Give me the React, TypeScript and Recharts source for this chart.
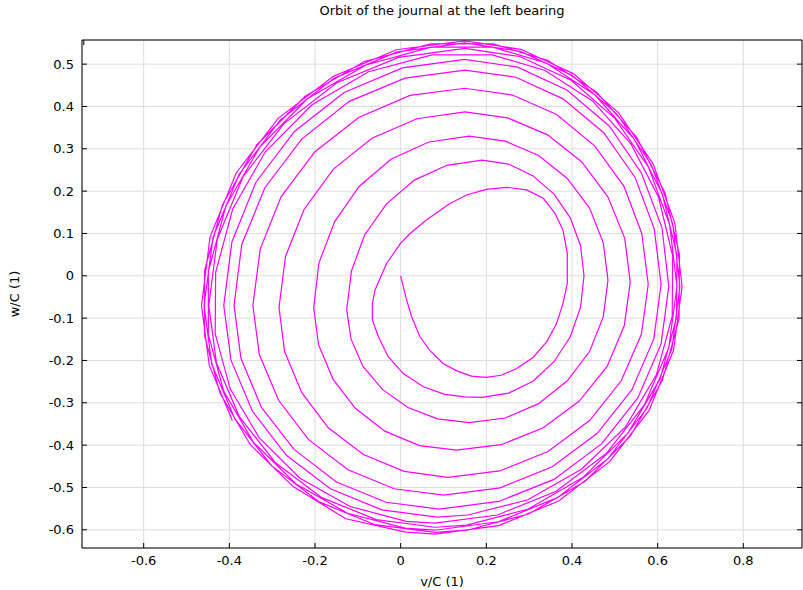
import React from 'react';
import { LineChart, Line, XAxis, YAxis, CartesianGrid } from 'recharts';

// journal orbit (v/C, w/C)
const turn0 = [
  [0, 0], [0.012, -0.05], [0.025, -0.095], [0.045, -0.144], [0.068, -0.176], [0.099, -0.207],
  [0.13, -0.224], [0.165, -0.237], [0.2, -0.24], [0.235, -0.235], [0.271, -0.219], [0.309, -0.193],
  [0.341, -0.156], [0.364, -0.113], [0.379, -0.065], [0.389, -0.018], [0.389, 0.053], [0.379, 0.108],
  [0.36, 0.148], [0.333, 0.183], [0.294, 0.203], [0.247, 0.209], [0.2, 0.204], [0.154, 0.191],
  [0.115, 0.171], [0.06, 0.132], [0.022, 0.1], [0, 0.077], [-0.033, 0.029], [-0.06, -0.034],
  [-0.066, -0.065], [-0.066, -0.105], [-0.052, -0.144], [-0.029, -0.191], [0.006, -0.231],
  [0.053, -0.262], [0.103, -0.28], [0.15, -0.286],
];
const turn1 = [
  [0.19, -0.287], [0.252, -0.277], [0.309, -0.249], [0.358, -0.203], [0.396, -0.144], [0.42, -0.074],
  [0.428, 0], [0.42, 0.071], [0.396, 0.137], [0.358, 0.193], [0.309, 0.236], [0.252, 0.264],
  [0.19, 0.273], [0.108, 0.261], [0.032, 0.226], [-0.033, 0.17], [-0.084, 0.097], [-0.115, 0.011],
  [-0.126, -0.08], [-0.116, -0.149], [-0.088, -0.214], [-0.042, -0.269], [0.017, -0.311], [0.086, -0.338],
];
const turn2 = [
  [0.16, -0.347], [0.244, -0.336], [0.322, -0.302], [0.389, -0.248], [0.441, -0.179], [0.473, -0.097],
  [0.484, -0.01], [0.473, 0.078], [0.441, 0.16], [0.389, 0.23], [0.322, 0.284], [0.244, 0.318],
  [0.16, 0.33], [0.066, 0.316], [-0.022, 0.276], [-0.097, 0.211], [-0.154, 0.128], [-0.191, 0.03],
  [-0.203, -0.075], [-0.192, -0.162], [-0.158, -0.244], [-0.106, -0.313], [-0.037, -0.367], [0.044, -0.401],
];
const turn3 = [
  [0.13, -0.412], [0.235, -0.399], [0.333, -0.359], [0.417, -0.296], [0.482, -0.214], [0.522, -0.118],
  [0.536, -0.015], [0.523, 0.089], [0.484, 0.186], [0.423, 0.269], [0.343, 0.333], [0.25, 0.373],
  [0.15, 0.387], [0.038, 0.371], [-0.067, 0.325], [-0.157, 0.252], [-0.226, 0.156], [-0.269, 0.045],
  [-0.284, -0.075], [-0.271, -0.179], [-0.231, -0.276], [-0.169, -0.359], [-0.087, -0.422], [0.008, -0.462],
];
const turn4 = [
  [0.11, -0.476], [0.231, -0.461], [0.344, -0.415], [0.441, -0.342], [0.515, -0.248], [0.562, -0.138],
  [0.578, -0.02], [0.563, 0.1], [0.521, 0.212], [0.453, 0.307], [0.364, 0.381], [0.261, 0.427],
  [0.15, 0.443], [0.022, 0.426], [-0.098, 0.374], [-0.2, 0.293], [-0.279, 0.187], [-0.328, 0.063],
  [-0.345, -0.07], [-0.33, -0.186], [-0.285, -0.294], [-0.215, -0.387], [-0.123, -0.458], [-0.015, -0.503],
];
const turn5 = [
  [0.1, -0.518], [0.232, -0.501], [0.354, -0.451], [0.459, -0.372], [0.54, -0.269], [0.591, -0.149],
  [0.608, -0.02], [0.592, 0.111], [0.547, 0.233], [0.474, 0.338], [0.379, 0.418], [0.269, 0.469],
  [0.15, 0.486], [0.01, 0.467], [-0.12, 0.412], [-0.231, 0.323], [-0.317, 0.208], [-0.371, 0.074],
  [-0.389, -0.07], [-0.373, -0.195], [-0.325, -0.311], [-0.249, -0.41], [-0.15, -0.487], [-0.034, -0.535],
];
const turn6 = [
  [0.09, -0.551], [0.229, -0.533], [0.358, -0.481], [0.469, -0.397], [0.554, -0.288], [0.608, -0.161],
  [0.626, -0.025], [0.61, 0.114], [0.562, 0.243], [0.487, 0.354], [0.388, 0.439], [0.273, 0.493],
  [0.15, 0.511], [0.004, 0.491], [-0.132, 0.433], [-0.248, 0.341], [-0.338, 0.221], [-0.394, 0.08],
  [-0.413, -0.07], [-0.396, -0.2], [-0.346, -0.32], [-0.267, -0.424], [-0.164, -0.503], [-0.044, -0.553],
];
const turn7 = [
  [0.085, -0.57], [0.157, -0.565], [0.297, -0.529], [0.422, -0.457], [0.525, -0.357], [0.597, -0.234],
  [0.634, -0.096], [0.635, 0.047], [0.602, 0.186], [0.538, 0.311], [0.448, 0.413], [0.337, 0.485],
  [0.214, 0.522], [0.073, 0.522], [-0.075, 0.482], [-0.207, 0.404], [-0.316, 0.293], [-0.392, 0.158],
  [-0.432, 0.008], [-0.433, -0.137], [-0.398, -0.267], [-0.33, -0.383], [-0.235, -0.478], [-0.118, -0.545],
  [0.013, -0.58],
];
const turn8 = [
  [0.08, -0.584], [0.226, -0.565], [0.363, -0.509], [0.48, -0.42], [0.569, -0.305], [0.626, -0.17],
  [0.645, -0.025], [0.628, 0.121], [0.579, 0.256], [0.5, 0.372], [0.398, 0.462], [0.278, 0.518],
  [0.15, 0.537], [-0.005, 0.516], [-0.149, 0.456], [-0.273, 0.359], [-0.368, 0.234], [-0.428, 0.087],
  [-0.448, -0.07], [-0.43, -0.206], [-0.377, -0.332], [-0.293, -0.441], [-0.184, -0.524], [-0.057, -0.576],
];
const turn9 = [
  [0.08, -0.594], [0.154, -0.589], [0.298, -0.551], [0.426, -0.476], [0.531, -0.371], [0.606, -0.243],
  [0.644, -0.099], [0.645, 0.049], [0.611, 0.193], [0.546, 0.322], [0.454, 0.427], [0.341, 0.502],
  [0.215, 0.54], [0.071, 0.54], [-0.081, 0.498], [-0.218, 0.418], [-0.329, 0.304], [-0.408, 0.165],
  [-0.449, 0.01], [-0.449, -0.139], [-0.413, -0.273], [-0.344, -0.393], [-0.245, -0.491], [-0.124, -0.561],
  [0.01, -0.596],
];
const turn10 = [
  [0.08, -0.601], [0.228, -0.581], [0.366, -0.524], [0.484, -0.432], [0.575, -0.313], [0.633, -0.174],
  [0.652, -0.025], [0.635, 0.124], [0.585, 0.263], [0.505, 0.382], [0.401, 0.473], [0.28, 0.53],
  [0.15, 0.55], [-0.008, 0.529], [-0.155, 0.467], [-0.281, 0.368], [-0.377, 0.24], [-0.438, 0.091],
  [-0.459, -0.07], [-0.441, -0.209], [-0.387, -0.338], [-0.301, -0.449], [-0.19, -0.534], [-0.06, -0.588],
];
const turn11 = [
  [0.08, -0.606], [0.155, -0.601], [0.3, -0.562], [0.43, -0.486], [0.536, -0.379], [0.611, -0.247],
  [0.65, -0.101], [0.651, 0.05], [0.617, 0.196], [0.551, 0.327], [0.457, 0.434], [0.343, 0.509],
  [0.216, 0.548], [0.07, 0.548], [-0.085, 0.506], [-0.223, 0.424], [-0.336, 0.309], [-0.416, 0.168],
  [-0.458, 0.011], [-0.458, -0.141], [-0.422, -0.277], [-0.351, -0.399], [-0.251, -0.498], [-0.128, -0.574],
  [0.009, -0.605],
];
const turn12 = [
  [0.08, -0.61], [0.229, -0.59], [0.369, -0.532], [0.488, -0.439], [0.58, -0.318], [0.637, -0.176],
  [0.657, -0.025], [0.64, 0.125], [0.589, 0.265], [0.509, 0.385], [0.404, 0.477], [0.281, 0.535],
  [0.15, 0.555], [-0.01, 0.534], [-0.158, 0.471], [-0.286, 0.372], [-0.384, 0.243], [-0.445, 0.092],
  [-0.465, -0.07], [-0.447, -0.211], [-0.393, -0.342],
];

const xTicks = [-0.6, -0.4, -0.2, 0, 0.2, 0.4, 0.6, 0.8];
const yTicks = [-0.6, -0.5, -0.4, -0.3, -0.2, -0.1, 0, 0.1, 0.2, 0.3, 0.4, 0.5];
const xDomain = [-0.744, 0.937];
const yDomain = [-0.643, 0.557];

const orbit = [turn0, turn1, turn2, turn3, turn4, turn5, turn6, turn7, turn8, turn9, turn10, turn11, turn12]
  .flat()
  .map(([v, w]) => ({ v, w }));

const font = '"DejaVu Sans", sans-serif';
const tickStyle = { fill: '#000', fontSize: 13, fontFamily: font };
const NoLabel = () => <g />;

export default function App() {
  return (
    <div style={{ position: 'relative', width: 803, height: 590, background: '#fff' }}>
      <style>{'body { margin: 0; }'}</style>
      <div
        style={{
          position: 'absolute', top: 3, left: 82, width: 720, textAlign: 'center',
          fontFamily: font, fontSize: 13, color: '#000',
        }}
      >
        Orbit of the journal at the left bearing
      </div>
      <LineChart width={803} height={590} data={orbit} margin={{ top: 39, right: 0, bottom: 0, left: 0 }}>
        <CartesianGrid stroke="#dcdcdc" />
        <XAxis
          type="number"
          dataKey="v"
          domain={xDomain}
          ticks={xTicks}
          allowDataOverflow
          height={42}
          tickSize={-5}
          tickMargin={13}
          stroke="#000"
          tick={tickStyle}
          label={{ value: 'v/C (1)', position: 'insideBottom', offset: 4, style: { fill: '#000', fontSize: 13, fontFamily: font } }}
        />
        <XAxis
          xAxisId="top"
          orientation="top"
          type="number"
          domain={xDomain}
          ticks={xTicks}
          allowDataOverflow
          height={1}
          tickSize={-5}
          tick={NoLabel}
          stroke="#000"
        />
        <YAxis
          type="number"
          domain={yDomain}
          ticks={yTicks}
          allowDataOverflow
          width={82}
          tickSize={-5}
          tickMargin={13}
          stroke="#000"
          tick={tickStyle}
          label={{ value: 'w/C (1)', angle: -90, position: 'insideLeft', offset: 14, style: { textAnchor: 'middle', fill: '#000', fontSize: 13, fontFamily: font } }}
        />
        <YAxis
          yAxisId="right"
          orientation="right"
          type="number"
          domain={yDomain}
          ticks={yTicks}
          allowDataOverflow
          width={1}
          tickSize={-5}
          tick={NoLabel}
          stroke="#000"
        />
        <Line type="linear" dataKey="w" stroke="#ff00ff" strokeWidth={1.2} dot={false} isAnimationActive={false} />
      </LineChart>
    </div>
  );
}
